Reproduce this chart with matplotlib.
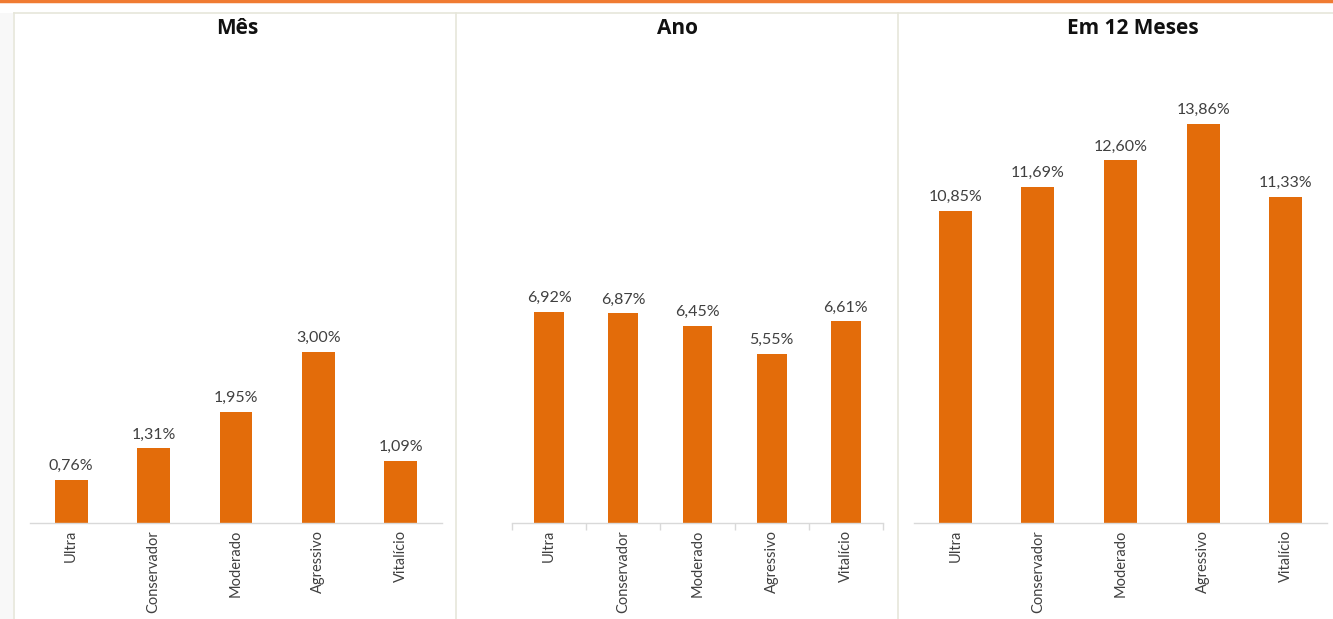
import matplotlib
matplotlib.use("Agg")
import matplotlib.pyplot as plt
from matplotlib.lines import Line2D

categories = ["Ultra", "Conservador", "Moderado", "Agressivo", "Vitalício"]
mes_values = [0.76, 1.31, 1.95, 3.00, 1.09]
ano_values = [6.92, 6.87, 6.45, 5.55, 6.61]
m12_values = [10.85, 11.69, 12.60, 13.86, 11.33]
titles = ["Mês", "Ano", "Em 12 Meses"]

plt.rcParams['font.family'] = ['Lato', 'DejaVu Sans']

W, H = 1333, 619
fig = plt.figure(figsize=(W / 100, H / 100), dpi=100)

def fx(px):
    return px / W

def fy(py):
    return 1 - py / H

BAR = "#E36C0A"
TXT = "#404040"
FRAME = "#E6E6DA"

# top orange line
fig.add_artist(Line2D([0, 1], [fy(1), fy(1)], color="#F07B32", lw=2.5, transform=fig.transFigure))
# light shading at left
fig.add_artist(plt.Rectangle((0, 0), fx(13), fy(13), color="#F8F8F8", transform=fig.transFigure, lw=0))
# panel frames
fig.add_artist(Line2D([fx(14), 1], [fy(13), fy(13)], color=FRAME, lw=1.2, transform=fig.transFigure))
for xp in [14, 456, 898]:
    fig.add_artist(Line2D([fx(xp), fx(xp)], [0, fy(13)], color=FRAME, lw=1.2, transform=fig.transFigure))

panels = [
    (mes_values, 30, 442, 8.39, False, 237),
    (ano_values, 512, 883, 15.67, True, 677),
    (m12_values, 914, 1327, 16.61, False, 1133),
]
top_px, base_px = 45, 523

for (vals, x0, x1, ymax, ticks, tcx), title in zip(panels, titles):
    ax = fig.add_axes([fx(x0), fy(base_px), fx(x1 - x0), (base_px - top_px) / H])
    xs = range(len(categories))
    bars = ax.bar(xs, vals, width=0.4, color=BAR, zorder=2)
    ax.set_xlim(-0.5, len(categories) - 0.5)
    ax.set_ylim(0, ymax)
    for s in ["top", "right", "left"]:
        ax.spines[s].set_visible(False)
    ax.spines["bottom"].set_color("#D9D9D9")
    ax.spines["bottom"].set_linewidth(1.0)
    ax.set_yticks([])
    ax.set_xticks(list(xs))
    ax.set_xticklabels(categories, rotation=90, fontsize=10.5, color=TXT)
    ax.tick_params(axis="x", length=0, pad=5)
    if ticks:
        ax.set_xticks([i - 0.5 for i in range(len(categories) + 1)], minor=True)
        ax.tick_params(axis="x", which="minor", length=5, color="#D9D9D9", width=1)
    for b, v in zip(bars, vals):
        ax.annotate(f"{v:.2f}%".replace(".", ","), (b.get_x() + b.get_width() / 2, v),
                    xytext=(0, 5), textcoords="offset points", ha="center", va="bottom",
                    fontsize=11.5, color=TXT)
    ax.patch.set_alpha(0)
    fig.text(fx(tcx), fy(28), title, ha="center", va="center", fontsize=15,
             fontweight="bold", color="#111111", family=["Open Sans", "DejaVu Sans"])

fig.savefig("out.png", dpi=100)
